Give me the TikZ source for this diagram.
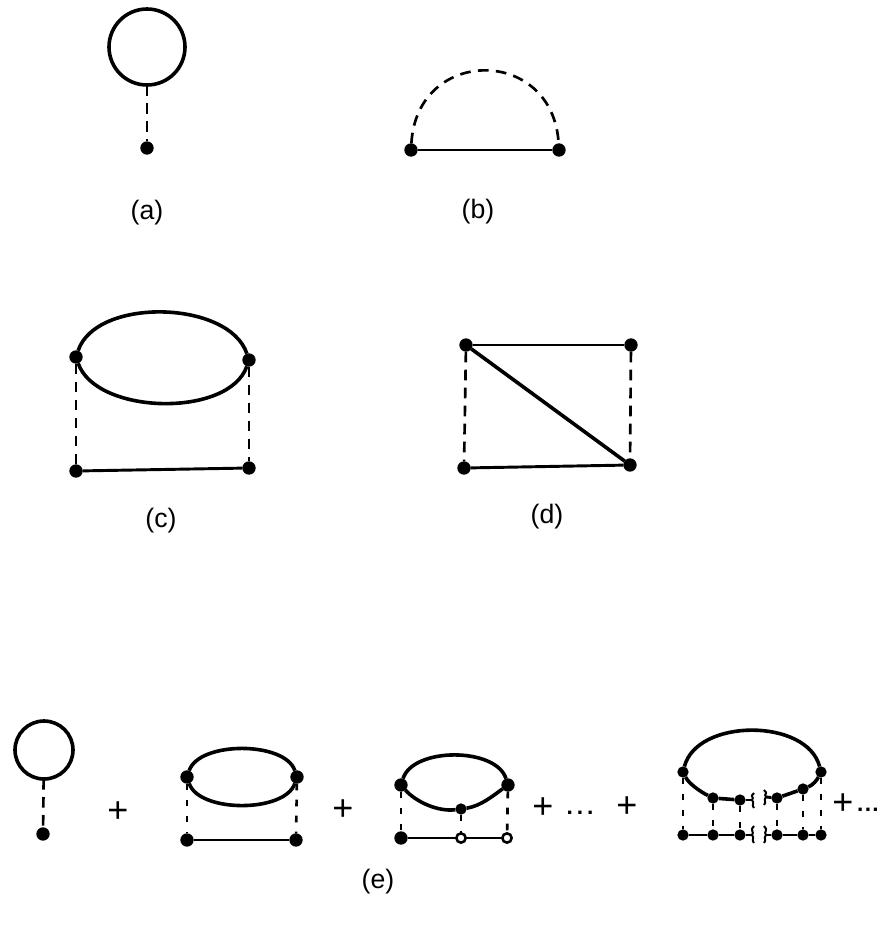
\documentclass[tikz,border=0pt]{standalone}
\usepackage{fontspec}
\setmainfont{Liberation Sans}
\usepackage{tikz}
\usetikzlibrary{calc}
\tikzset{
  vtx/.style={circle,fill=black,minimum size=10pt,inner sep=0pt,outer sep=0pt},
  smallvtx/.style={circle,fill=black,minimum size=8.5pt,inner sep=0pt,outer sep=0pt},
  openvtx/.style={circle,draw=black,fill=white,line width=1.9pt,minimum size=7pt,inner sep=0pt,outer sep=0pt},
  loopnode/.style={circle,draw=black,line width=2.7pt,inner sep=0pt,outer sep=0pt},
  fermion/.style={draw=black,line width=2.7pt},
  thinfermion/.style={draw=black,line width=2.2pt},
  phonon/.style={draw=black,line width=2pt,dash pattern=on 8pt off 5.5pt},
  shortphonon/.style={draw=black,line width=2pt,dash pattern=on 5pt off 7pt},
  tag/.style={font=\fontsize{20}{24}\selectfont,inner sep=0pt},
  plus/.style={font=\fontsize{27}{30}\selectfont,inner sep=0pt},
  dotstext/.style={font=\bfseries\fontsize{17}{20}\selectfont,inner sep=0pt}
}
\begin{document}
\begin{tikzpicture}[x=0.75pt,y=-0.75pt]
  \useasboundingbox (0,0) rectangle (889,936);

  % (a)
  \node[loopnode,minimum size=57pt] (loopa) at (147,47) {};
  \node[vtx] (va) at (147,148) {};
  \draw[phonon] (loopa) -- (va);
  \node[tag] (taga) at (147,213) {(a)};

  % (b)
  \node[vtx] (bl) at (411,150) {};
  \node[vtx] (br) at (559,150) {};
  \draw[thinfermion] (bl) -- (br);
  \draw[phonon] (bl) .. controls +(6,-104) and +(-6,-104) .. (br);
  \node[tag] (tagb) at (478,212) {(b)};

  % (c)
  \node[vtx] (cul) at (76,357) {};
  \node[vtx] (cur) at (249,360) {};
  \node[vtx] (cll) at (76,471) {};
  \node[vtx] (clr) at (249,468) {};
  \draw[fermion] (cul) .. controls +(20,-60) and +(-20,-60) .. (cur);
  \draw[fermion] (cul) .. controls +(20,58) and +(-20,58) .. (cur);
  \draw[phonon] (cul) -- (cll);
  \draw[phonon] (cur) -- (clr);
  \draw[thinfermion] (cll) -- (clr);
  \node[tag] (tagc) at (161,521) {(c)};

  % (d)
  \node[vtx] (dul) at (466,345) {};
  \node[vtx] (dur) at (631,345) {};
  \node[vtx] (dll) at (464,468) {};
  \node[vtx] (dlr) at (630,465) {};
  \draw[thinfermion] (dul) -- (dur);
  \draw[thinfermion] (dll) -- (dlr);
  \draw[fermion] (dul) -- (dlr);
  \draw[phonon] (dul) -- (dll);
  \draw[phonon] (dur) -- (dlr);
  \node[tag] (tagd) at (547,517) {(d)};

  % (e) first term
  \node[loopnode,minimum size=43.5pt] (loope) at (44,750) {};
  \node[vtx] (ve) at (43,834) {};
  \draw[phonon] (loope) -- (ve);
  \node[plus] (plusa) at (118,812) {+};

  % (e) second term
  \node[vtx] (eul) at (187,777) {};
  \node[vtx] (eur) at (297,777) {};
  \node[vtx] (ell) at (187,840) {};
  \node[vtx] (elr) at (296,840) {};
  \draw[fermion] (eul) .. controls +(12,-36) and +(-12,-36) .. (eur);
  \draw[fermion] (eul) .. controls +(12,36) and +(-12,36) .. (eur);
  \draw[shortphonon] (eul) -- (ell);
  \draw[shortphonon] (eur) -- (elr);
  \draw[thinfermion] (ell) -- (elr);
  \node[plus] (plusb) at (343,810) {+};

  % (e) third term
  \node[vtx] (ful) at (401,785) {};
  \node[vtx] (fur) at (508,785) {};
  \node[smallvtx] (fum) at (461,809) {};
  \node[vtx] (fll) at (401,838) {};
  \node[openvtx] (flm) at (461,838) {};
  \node[openvtx] (flr) at (507,838) {};
  \draw[fermion] (ful) .. controls +(12,-38) and +(-12,-38) .. (fur);
  \draw[fermion] (ful) .. controls +(14,16) and +(-24,3) .. (fum);
  \draw[fermion] (fum) .. controls +(20,-3) and +(-14,10) .. (fur);
  \draw[shortphonon] (ful) -- (fll);
  \draw[shortphonon] (fur) -- (flr);
  \draw[shortphonon] (fum) -- (flm);
  \draw[thinfermion] (fll) -- (flm);
  \draw[thinfermion] (flm) -- (flr);
  \node[plus] (plusc) at (543,808) {+};
  \node[dotstext] (dotsa) at (580,813) {.\kern3pt.\kern3pt.};
  \node[plus] (plusd) at (627,807) {+};

  % (e) last term
  \foreach \name/\xx/\yy in {g1/683/772,g2/713/798,g3/740/800,g4/777/798,g5/803/789,g6/821/772}
    \node[smallvtx] (\name) at (\xx,\yy) {};
  \foreach \name/\xx in {h1/683,h2/713,h3/740,h4/777,h5/803,h6/821}
    \node[smallvtx] (\name) at (\xx,835) {};
  \foreach \ii in {1,...,6}
    \draw[shortphonon] (g\ii) -- (h\ii);
  \draw[fermion] (g1) .. controls +(14,-54) and +(-14,-54) .. (g6);
  \draw[fermion] (g1) .. controls +(6,12) and +(-12,-6) .. (g2);
  \draw[fermion] (g2) -- (g3);
  \draw[fermion] (g4) -- (g5);
  \draw[fermion] (g5) .. controls +(10,-4) and +(-4,8) .. (g6);
  \draw[thinfermion] (h1) -- (h2);
  \draw[thinfermion] (h2) -- (h3);
  \draw[thinfermion] (h4) -- (h5);
  \draw[thinfermion] (h5) -- (h6);
  % broken ends
  \coordinate (gbl) at (752,800);
  \coordinate (gbr) at (766,797);
  \coordinate (hbl) at (752,835);
  \coordinate (hbr) at (766,835);
  \draw[thinfermion] (g3) -- (gbl);
  \draw[thinfermion] (gbr) -- (g4);
  \draw[thinfermion] (h3) -- (hbl);
  \draw[thinfermion] (hbr) -- (h4);
  \draw[draw=black,line width=1.5pt] ($(gbl)+(2,-7)$) .. controls +(-5,4) and +(3,-3) .. (gbl) .. controls +(3,3) and +(-3,-3) .. ($(gbl)+(2,8)$);
  \draw[draw=black,line width=1.5pt] ($(gbr)+(-2,-7)$) .. controls +(5,4) and +(-3,-3) .. (gbr) .. controls +(-3,3) and +(3,-3) .. ($(gbr)+(-2,8)$);
  \draw[draw=black,line width=1.5pt] ($(hbl)+(2,-9)$) .. controls +(-5,4) and +(3,-3) .. (hbl) .. controls +(3,3) and +(-3,-3) .. ($(hbl)+(2,8)$);
  \draw[draw=black,line width=1.5pt] ($(hbr)+(-2,-9)$) .. controls +(5,4) and +(-3,-3) .. (hbr) .. controls +(-3,3) and +(3,-3) .. ($(hbr)+(-2,8)$);
  \node[plus] (pluse) at (843,804) {+};
  \node[dotstext] (dotsb) at (868,810) {.\kern1pt.\kern1pt.};

  \node[tag] (tage) at (378,882) {(e)};
\end{tikzpicture}
\end{document}
